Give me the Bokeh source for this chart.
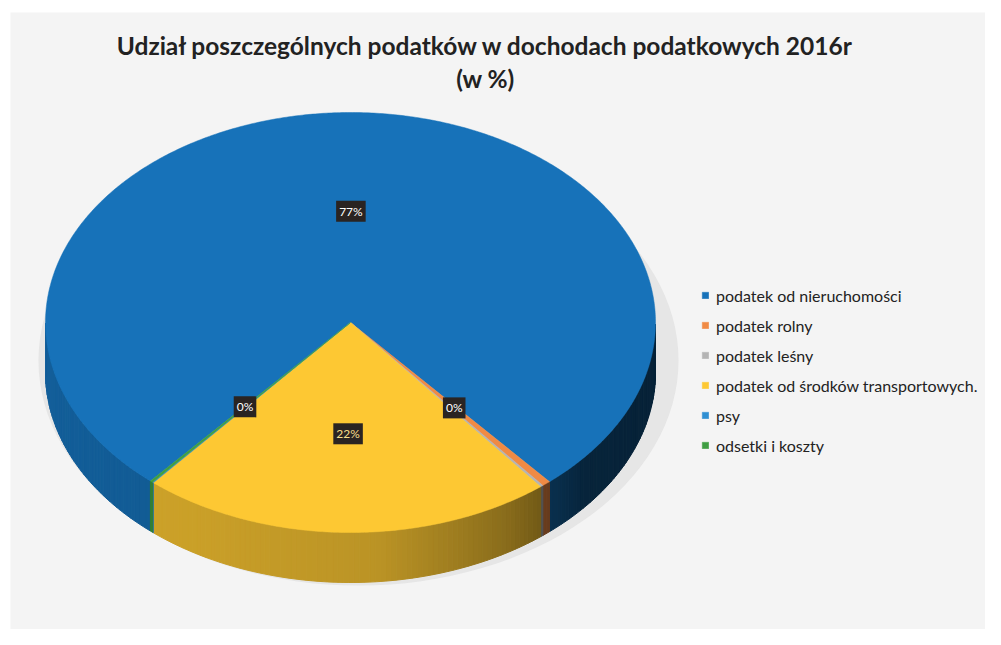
import numpy as np
from bokeh.plotting import figure
from bokeh.models import Range1d, Label, Legend, LegendItem, ColumnDataSource
from bokeh.embed import file_html
from bokeh.resources import INLINE

# ---------------- data ----------------
categories = ["podatek od nieruchomości", "podatek rolny", "podatek leśny",
              "podatek od środków transportowych.", "psy", "odsetki i koszty"]
shares = [77.3, 0.45, 0.15, 21.9, 0.05, 0.15]          # % of tax revenue 2016
show_label = [True, True, False, True, False, True]
colors = ["#1772b9", "#f08a44", "#b4b4b4", "#fdc833", "#2f8fd2", "#3f9e42"]
title_lines = ["Udział poszczególnych podatków w dochodach podatkowych 2016r", "(w %)"]

# ---------------- layout / style ----------------
W, H = 985, 629
BL, BT = 10, 12
CX, CY, RX, RY, DEPTH = 350, 322, 305, 210, 50
START = 229.0          # angle of first slice (deg), slices run clockwise
FONT = "Lato"

def shade(hexcol, f):
    h = hexcol.lstrip("#")
    r, g, b = (int(h[i:i + 2], 16) for i in (0, 2, 4))
    return "#%02x%02x%02x" % (int(r * f), int(g * f), int(b * f))

def side_factor(t):
    return float(np.interp(t, [180, 240, 275, 300, 320, 360],
                           [0.84, 0.80, 0.74, 0.55, 0.32, 0.30]))

def px(t):
    return CX + RX * np.cos(np.radians(t))

def py(t):
    return CY - RY * np.sin(np.radians(t))

total = float(sum(shares))
spans = []
a = START
for s in shares:
    sp = s / total * 360.0
    spans.append((a, a - sp))
    a -= sp

p = figure(width=W, height=H, output_backend="svg", toolbar_location=None,
           x_range=Range1d(BL, W), y_range=Range1d(H, BT),
           min_border_left=BL, min_border_top=BT, min_border_right=0, min_border_bottom=0)
p.axis.visible = False
p.grid.visible = False
p.outline_line_color = None
p.background_fill_color = "#f4f4f4"
p.border_fill_color = "white"

# soft shadow under the pie
p.ellipse(x=CX + 8, y=CY + DEPTH * 0.6 + 8, width=2 * RX + 30, height=2 * RY + 30,
          fill_color="#d8d8d8", fill_alpha=0.5, line_color=None)

# ---------------- sides ----------------
sx, sy, sc = [], [], []
for (a0, a1), col in zip(spans, colors):
    n = max(2, int(abs(a0 - a1) / 1.0) + 2)
    ts = np.linspace(a0, a1, n)
    for t0, t1 in zip(ts[:-1], ts[1:]):
        mid = ((t0 + t1) / 2.0) % 360
        if 180 <= mid <= 360:
            sx.append([px(t0), px(t1), px(t1), px(t0)])
            sy.append([py(t0), py(t1), py(t1) + DEPTH, py(t0) + DEPTH])
            sc.append(shade(col, side_factor(mid)))
p.patches(xs="xs", ys="ys", fill_color="c", line_color="c", line_width=1,
          source=ColumnDataSource(dict(xs=sx, ys=sy, c=sc)))

# ---------------- top faces ----------------
tx, ty = [], []
for (a0, a1) in spans:
    n = max(3, int(abs(a0 - a1) / 0.5) + 2)
    ts = np.linspace(a0, a1, n)
    tx.append([CX] + list(px(ts)))
    ty.append([CY] + list(py(ts)))
top_src = ColumnDataSource(dict(xs=tx, ys=ty, c=colors, name=categories))
top = p.patches(xs="xs", ys="ys", fill_color="c", line_color="c", line_width=0.5,
                source=top_src)

# ---------------- data labels ----------------
for (a0, a1), s, show, col in zip(spans, shares, show_label, colors):
    if not show:
        continue
    mid = (a0 + a1) / 2.0
    p.add_layout(Label(x=CX + RX * 0.53 * np.cos(np.radians(mid)),
                       y=CY - RY * 0.53 * np.sin(np.radians(mid)),
                       text="%d%%" % round(s), text_align="center", text_baseline="middle",
                       text_font=FONT, text_font_size="12px",
                       text_color="#f6df8c" if col == "#fdc833" else "white",
                       background_fill_color="#2a2422", padding=3))

# ---------------- title ----------------
for i, line in enumerate(title_lines):
    p.add_layout(Label(x=485, y=45 + 33 * i, text=line, text_align="center",
                       text_baseline="middle", text_font=FONT, text_font_style="bold",
                       text_font_size="24.5px", text_color="#222222"))

# ---------------- legend ----------------
items = [LegendItem(label=c, renderers=[top], index=i) for i, c in enumerate(categories)]
legend = Legend(items=items, location=(691, 174), orientation="vertical",
                glyph_width=8, glyph_height=8, label_standoff=7, spacing=10,
                label_height=20, padding=0, margin=0,
                border_line_alpha=0, background_fill_alpha=0,
                label_text_font=FONT, label_text_font_size="16px",
                label_text_color="#222222")
p.add_layout(legend)

open("out.html", "w").write(file_html(p, INLINE))
